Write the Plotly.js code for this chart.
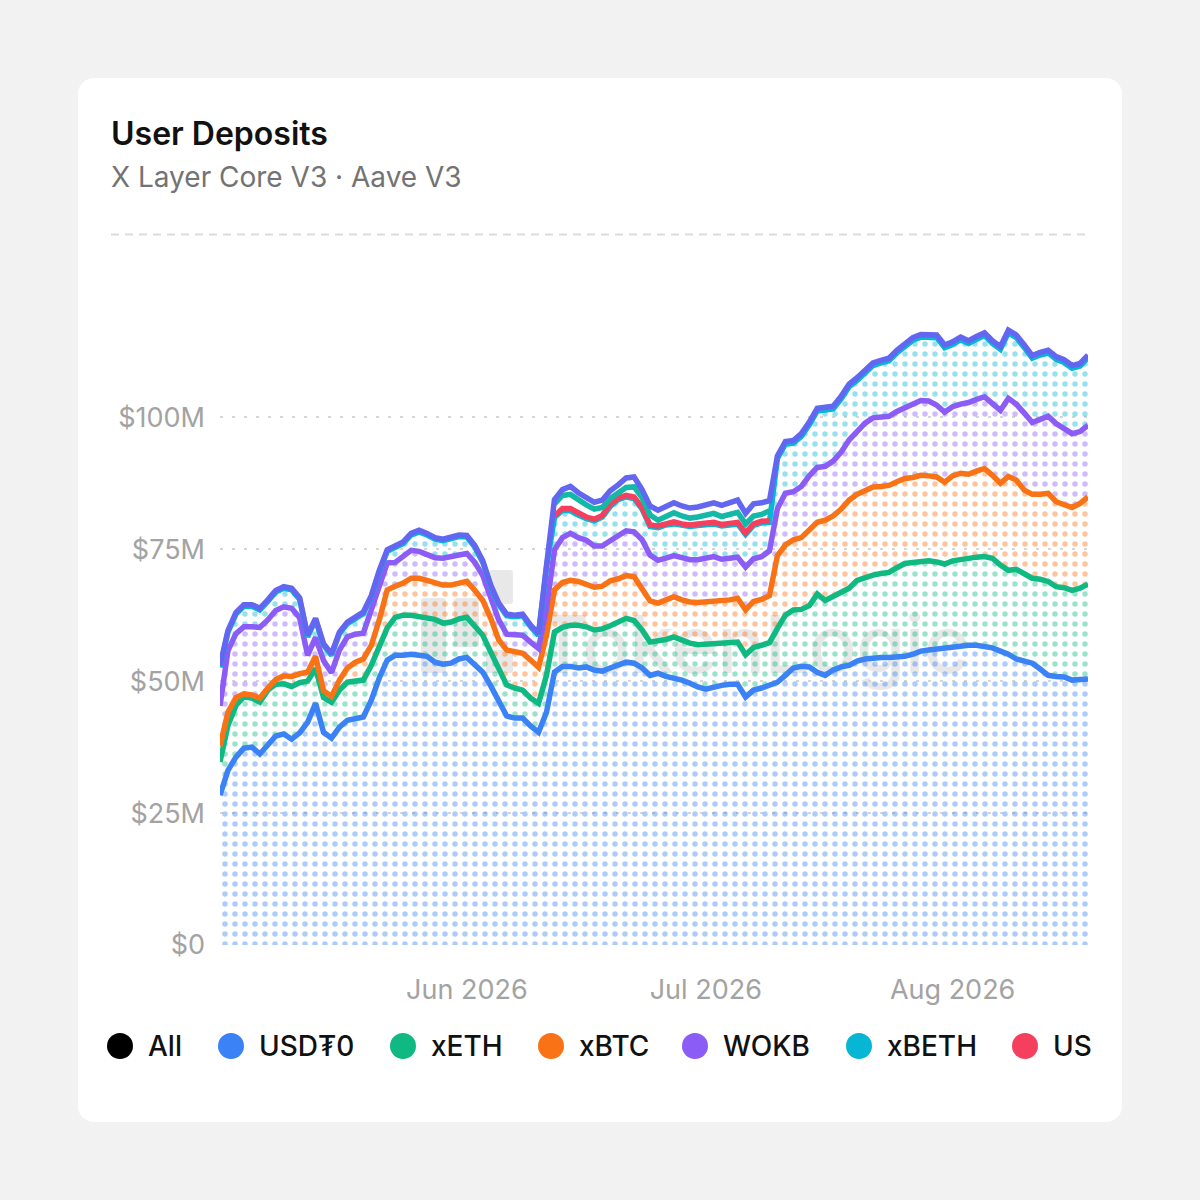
<!DOCTYPE html>
<html>
<head>
<meta charset="utf-8">
<script src="https://cdn.plot.ly/plotly-3.0.1.min.js"></script>
<style>
  html, body { margin:0; padding:0; background:#f2f2f2; width:1200px; height:1200px; overflow:hidden; font-family:Inter, sans-serif; }
  #card { position:absolute; left:78px; top:78px; width:1044px; height:1044px; background:#ffffff; border-radius:16px; z-index:0; }
  #wm { position:absolute; left:0; top:0; width:1200px; height:1200px; z-index:1; pointer-events:none; }
  #wm .txt { position:absolute; left:537px; top:604px; font-size:80px; line-height:80px; font-weight:500; color:rgba(0,0,0,0.09); letter-spacing:-1px; white-space:nowrap; }
  #wm .blk { position:absolute; background:rgba(0,0,0,0.09); border-radius:3px; }
  #chart { position:absolute; left:0; top:0; width:1104px; height:1200px; z-index:2; }
</style>
</head>
<body>
<div id="card"></div>
<div id="wm">
  <div class="blk" style="left:421px;top:598px;width:25px;height:75px"></div>
  <div class="blk" style="left:454px;top:598px;width:25px;height:49px"></div>
  <div class="blk" style="left:489px;top:570px;width:24px;height:34px"></div>
  <div class="blk" style="left:486px;top:650px;width:27px;height:23px"></div>
  <div class="txt">TokenLogic</div>
</div>
<div id="chart"></div>
<script>
// ---------- DATA (values in $M, daily from 2026-05-01) ----------
const startDate = '2026-05-01';
const dayCount = 110;

const usdt0 = [28.4,33.1,35.6,37.3,37.5,36.2,37.9,39.6,40.0,39.0,
  40.2,42.2,45.8,40.3,39.2,41.3,42.6,43.0,43.2,46.4,
  50.6,54.0,54.9,54.9,55.1,54.9,54.7,53.6,53.2,53.4,
  54.2,54.5,53.2,51.7,49.1,46.4,43.4,43.0,43.0,41.5,
  40.3,44.1,51.7,52.8,52.8,52.5,52.7,52.1,51.9,52.5,
  53.0,53.6,53.4,52.5,51.1,51.5,50.9,50.6,50.2,49.6,
  48.9,48.5,48.9,49.2,49.4,49.4,47.0,48.3,48.7,49.2,
  49.8,51.1,52.5,52.8,52.7,51.7,51.1,52.1,52.7,53.0,
  53.8,54.2,54.4,54.5,54.5,54.5,54.7,55.1,55.7,55.9,
  56.1,56.3,56.3,56.6,56.8,56.8,56.6,56.3,55.7,55.1,
  54.2,53.8,53.4,52.3,51.1,50.9,50.8,50.2,50.2,50.4];

const xeth = [6.3,8.5,9.8,9.7,9.3,9.8,10.4,9.8,9.5,10.0,
  9.5,7.8,6.6,6.6,6.8,7.0,7.2,7.0,7.0,6.6,
  6.3,6.1,7.2,7.6,7.4,7.4,7.4,8.1,7.8,7.8,
  7.6,7.6,7.2,7.0,6.4,5.7,5.9,5.7,5.3,5.3,
  5.5,7.0,7.6,7.4,7.8,8.1,7.6,7.6,8.0,8.0,
  8.1,8.3,8.1,7.2,6.3,6.1,7.0,7.8,7.6,7.6,
  8.0,8.5,8.3,8.1,8.0,8.0,8.0,8.1,8.1,8.1,
  10.2,11.4,11.0,10.8,11.6,14.8,14.2,14.0,14.0,14.6,
  15.3,15.5,15.7,15.9,16.1,17.0,17.6,17.4,17.0,16.9,
  16.5,15.9,16.5,16.5,16.5,16.7,17.0,17.0,16.3,15.9,
  17.0,16.5,16.1,17.0,17.8,17.0,16.9,17.0,17.4,18.0];

const xbtc = [3.0,2.5,1.5,0.6,0.6,0.8,0.4,0.9,1.5,1.9,
  1.7,1.7,2.3,1.3,1.1,1.9,2.7,3.6,4.0,3.8,
  4.7,7.2,5.9,6.1,7.0,7.2,7.0,7.0,7.2,7.0,
  6.8,6.8,6.8,6.6,6.4,5.7,6.6,6.8,7.0,7.2,
  6.8,7.6,8.0,8.5,8.5,8.3,8.1,8.1,8.1,8.5,
  8.3,8.1,8.3,7.6,7.8,7.2,7.6,7.6,7.6,7.8,
  8.0,8.0,8.1,8.0,8.0,8.3,8.5,8.7,8.7,8.9,
  13.8,13.3,13.3,13.6,14.4,13.6,15.2,15.2,15.9,16.7,
  16.3,16.5,16.7,16.5,16.5,16.3,16.1,16.1,16.3,16.1,
  16.1,15.5,16.1,16.3,15.9,16.3,16.7,15.7,15.5,17.8,
  16.9,15.9,15.9,16.1,16.7,16.1,15.7,15.7,16.1,16.5];

const wokb = [7.6,11.7,12.1,12.7,12.9,13.4,12.9,13.1,13.1,12.9,
  10.6,3.2,3.6,5.7,4.5,5.7,5.9,5.3,4.9,6.6,
  6.6,5.1,4.5,5.1,5.3,5.1,4.9,4.7,5.1,5.3,
  5.3,5.3,5.3,4.7,4.0,3.8,3.0,3.4,3.4,3.4,
  3.6,5.1,7.6,8.5,8.9,8.3,8.3,7.8,7.6,7.6,
  8.1,8.5,8.5,9.5,8.7,8.1,7.8,7.8,8.0,8.0,
  8.1,8.3,8.3,7.8,8.0,7.8,8.1,8.1,8.1,8.5,
  8.9,9.8,9.1,9.7,10.2,10.4,10.2,10.4,10.8,11.4,
  11.9,12.7,13.1,13.1,13.1,13.3,13.4,14.0,14.2,14.2,
  13.6,13.3,13.1,13.1,13.6,13.6,13.6,13.6,13.8,14.8,
  14.4,14.6,13.6,14.2,14.6,14.8,14.4,14.0,13.6,13.6];

const xbeth = [7.3,3.5,3.7,3.9,3.9,3.3,3.5,3.5,3.5,3.5,
  3.5,3.5,3.3,2.9,3.3,3.1,2.5,2.9,3.7,2.5,
  2.5,2.2,2.9,2.4,2.9,3.7,3.7,3.5,3.3,3.5,
  3.5,3.1,2.9,2.5,2.0,2.9,3.5,3.3,3.7,2.9,
  2.5,7.8,6.1,5.2,4.3,4.3,4.1,4.8,5.5,6.5,
  6.9,6.4,6.3,5.8,5.4,6.2,6.3,6.0,6.1,6.3,
  6.5,6.4,6.2,6.3,6.1,6.3,6.2,6.3,6.4,5.4,
  9.5,9.3,9.2,9.5,9.7,10.7,10.7,9.9,10.1,10.1,
  9.7,9.5,9.9,10.3,10.5,11.1,11.6,12.0,12.0,12.0,
  12.8,12.2,11.8,12.2,11.2,11.4,11.6,11.4,11.6,12.4,
  12.6,12.4,12.2,12.2,12.0,12.2,12.6,12.4,12.4,12.8];

// small series, present only 2026-06-12 .. 2026-07-09 (day 42..69)
const usdgFirstDay = 42;
const usdg = [0.3,0.3,0.4,0.3,0.3,0.3,0.3,0.4,0.3,0.3,0.3,0.3,0.3,0.3,
  0.3,0.4,0.3,0.3,0.3,0.3,0.3,0.3,0.3,0.3,0.3,0.3,0.3,0.3];
const xsol = [2.3,2.5,2.7,2.5,2.3,1.9,1.5,1.1,0.9,1.5,1.9,1.9,1.9,1.1,
  1.3,1.7,1.5,1.3,1.3,1.5,1.7,1.5,1.7,1.9,1.7,1.5,1.3,1.9];
// remaining assets (top sliver)
const other = [0.3,0.3,0.3,0.3,0.3,0.3,0.3,0.3,0.3,0.3,
  0.3,0.3,0.3,0.3,0.3,0.3,0.3,0.3,0.3,0.3,
  0.3,0.3,0.3,0.3,0.3,0.3,0.3,0.3,0.3,0.3,
  0.3,0.3,0.3,0.3,0.3,0.3,0.3,0.3,0.3,0.3,
  0.3,0.3,0.8,1.1,1.5,1.4,1.3,1.3,1.4,1.5,
  1.6,1.8,1.9,1.5,1.7,1.9,1.9,1.9,1.9,1.9,
  1.9,2.0,2.0,2.1,2.3,2.3,2.0,2.3,2.2,1.9,
  0.5,0.5,0.5,0.5,0.5,0.5,0.5,0.5,0.5,0.5,
  0.5,0.5,0.5,0.5,0.5,0.5,0.5,0.5,0.5,0.5,
  0.5,0.5,0.5,0.5,0.5,0.5,0.5,0.5,0.5,0.5,
  0.5,0.5,0.5,0.5,0.5,0.5,0.5,0.5,0.5,0.5];

const seriesNames  = ['USD₮0','xETH','xBTC','WOKB','xBETH','USDG','xSOL','Other'];
const seriesColors = ['#3b82f6','#10b981','#f97316','#8b5cf6','#06b6d4','#f43f5e','#14b8a6','#6366f1'];
const dotColors    = ['rgba(59,130,246,0.42)','rgba(16,185,129,0.42)','rgba(249,115,22,0.42)','rgba(139,92,246,0.42)','rgba(6,182,212,0.42)'];

// legend as shown in the card (last entry is cut off by the card edge)
const legendNames  = ['All','USD₮0','xETH','xBTC','WOKB','xBETH','US'];
const legendColors = ['#000000','#3b82f6','#10b981','#f97316','#8b5cf6','#06b6d4','#f43f5e'];

const yTickVals = [0,25,50,75,100];
const yTickText = ['$0','$25M','$50M','$75M','$100M'];
const xTickVals = ['2026-06-01','2026-07-01','2026-08-01'];
const xTickText = ['Jun 2026','Jul 2026','Aug 2026'];

// ---------- BUILD ----------
const dates = [];
{
  const d0 = new Date(startDate + 'T00:00:00Z');
  for (let i = 0; i < dayCount; i++) {
    const d = new Date(d0.getTime() + i * 86400000);
    dates.push(d.toISOString().slice(0,10));
  }
}
const mainSeries = [usdt0, xeth, xbtc, wokb, xbeth];
const padded = (arr) => dates.map((_, i) => {
  const k = i - usdgFirstDay;
  return (k >= 0 && k < arr.length) ? arr[k] : null;
});
const usdgFull = padded(usdg);
const xsolFull = padded(xsol);

const traces = mainSeries.map((s, j) => ({
  type:'scatter', mode:'lines', x: dates, y: s, name: seriesNames[j],
  stackgroup:'main',
  line:{color: seriesColors[j], width:5.5},
  fillcolor:'rgba(0,0,0,0)',
  fillpattern:{shape:'.', size:10, solidity:0.24, fgcolor: dotColors[j], bgcolor:'rgba(0,0,0,0)', fgopacity:1},
  hoverinfo:'skip', showlegend:false
}));

const base = dates.map((_, i) => mainSeries.reduce((a, s) => a + s[i], 0));
const usdgTop = dates.map((_, i) => usdgFull[i] == null ? null : base[i] + usdgFull[i]);
const xsolTop = dates.map((_, i) => xsolFull[i] == null ? null : base[i] + usdgFull[i] + xsolFull[i]);
const otherTop = dates.map((_, i) => base[i] + (usdgFull[i] || 0) + (xsolFull[i] || 0) + other[i]);

[[usdgTop,5],[xsolTop,6],[otherTop,7]].forEach(([ys, j]) => {
  traces.push({
    type:'scatter', mode:'lines', x: dates, y: ys, name: seriesNames[j],
    line:{color: seriesColors[j], width:5.5}, connectgaps:false,
    hoverinfo:'skip', showlegend:false
  });
});

// ---------- LAYOUT ----------
const W = 1104, H = 1200;
const M = {l:220, r:16, t:258.6, b:255};
const plotW = W - M.l - M.r, plotH = H - M.t - M.b;
const pxX = (px) => (px - M.l) / plotW;
const pxY = (py) => (H - M.b - py) / plotH;

const legendCenters = [120, 231, 403, 551, 695, 859, 1025];
const legendY = 1046;

const shapes = [{
  type:'line', xref:'paper', yref:'paper',
  x0: pxX(111), x1: pxX(1088), y0: pxY(234), y1: pxY(234),
  line:{color:'#dcdcdc', width:2, dash:'8px,6px'}
}];
const annotations = [];
legendNames.forEach((n, k) => {
  shapes.push({
    type:'circle', xref:'paper', yref:'paper', xsizemode:'pixel', ysizemode:'pixel',
    xanchor: pxX(legendCenters[k]), yanchor: pxY(legendY),
    x0:-13, x1:13, y0:-13, y1:13,
    fillcolor: legendColors[k], line:{width:0}
  });
  annotations.push({
    xref:'paper', yref:'paper', x: pxX(legendCenters[k] + 26), y: pxY(legendY),
    xanchor:'left', yanchor:'middle', showarrow:false, text: n,
    font:{family:'Inter, sans-serif', size:28, color:'#111111', weight:500}
  });
});

const layout = {
  width: W, height: H,
  margin: {l:M.l, r:M.r, t:M.t, b:M.b, pad:0},
  paper_bgcolor:'rgba(0,0,0,0)', plot_bgcolor:'rgba(0,0,0,0)',
  showlegend:false, hovermode:false,
  font:{family:'Inter, sans-serif'},
  title:{
    text:'User Deposits<br><span style="font-size:28px;color:#737373;font-weight:400">X Layer Core V3 · Aave V3</span>',
    xref:'container', x: 111 / W, xanchor:'left',
    yref:'container', y: 1 - 145 / H, yanchor:'top',
    font:{family:'Inter, sans-serif', size:32, color:'#111111', weight:600}
  },
  xaxis:{
    type:'date', range:[dates[0], dates[dates.length-1]],
    tickvals: xTickVals, ticktext: xTickText,
    showgrid:false, zeroline:false, showline:false, ticks:'',
    ticklabelstandoff: 26,
    tickfont:{family:'Inter, sans-serif', size:27, color:'#a3a3a3'},
    fixedrange:true
  },
  yaxis:{
    range:[0,130], tickvals: yTickVals, ticktext: yTickText,
    showgrid:true, gridcolor:'#d6d6d6', gridwidth:2, griddash:'3px,9px',
    zeroline:false, showline:false, ticks:'',
    ticklabelstandoff: 14,
    tickfont:{family:'Inter, sans-serif', size:27, color:'#a3a3a3'},
    fixedrange:true
  },
  shapes, annotations
};

Plotly.newPlot('chart', traces, layout, {staticPlot:true, displayModeBar:false});
</script>
</body>
</html>
